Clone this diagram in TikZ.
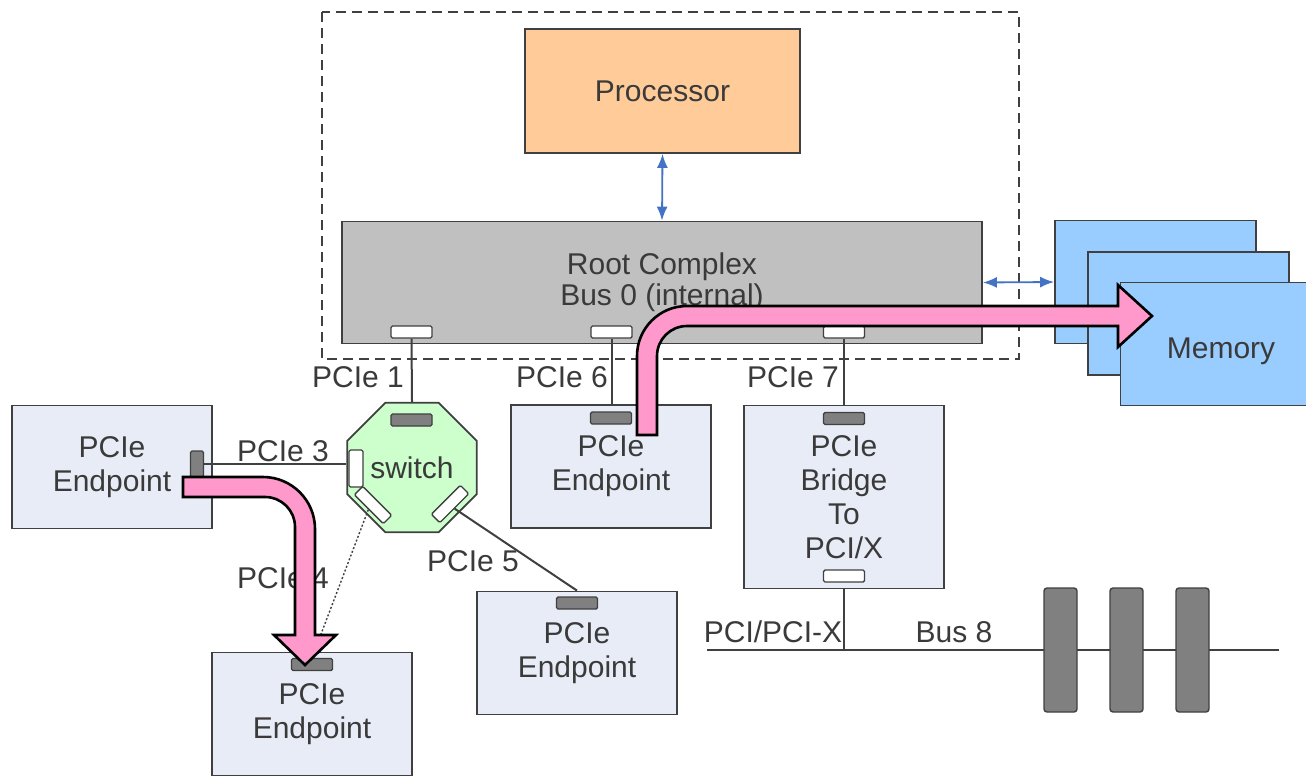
\documentclass[tikz,border=0pt]{standalone}
\usepackage{fontspec}
\setmainfont{Liberation Sans}
\usetikzlibrary{shapes.geometric,arrows.meta}
\definecolor{ink}{HTML}{3A3A3A}
\definecolor{edge}{HTML}{404040}
\definecolor{procfill}{HTML}{FFCC99}
\definecolor{rcfill}{HTML}{C0C0C0}
\definecolor{memfill}{HTML}{99CCFF}
\definecolor{epfill}{HTML}{E8ECF6}
\definecolor{swfill}{HTML}{CCFFCC}
\definecolor{linkblue}{HTML}{4472C4}
\definecolor{flowpink}{HTML}{FF99CC}
\definecolor{portfill}{HTML}{808080}
\begin{document}
\begin{tikzpicture}[x=1pt,y=-1pt,
  every node/.style={font=\fontsize{30}{34}\selectfont,text=ink},
  box/.style={draw=edge,line width=1.8pt,inner sep=0pt,align=center},
  ep/.style={box,fill=epfill,minimum width=200pt,minimum height=123pt},
  mem/.style={box,fill=memfill,minimum width=201pt,minimum height=123pt},
  port/.style={draw=edge,line width=1.4pt,fill=portfill,minimum width=41pt,minimum height=12pt,inner sep=0pt,rounded corners=1.5pt},
  hole/.style={port,fill=white},
  wire/.style={draw=edge,line width=2pt},
  link/.style={draw=linkblue,line width=1.8pt,{Latex[length=14pt,width=11pt]}-{Latex[length=14pt,width=11pt]}},
  flow/.style={draw=black,line width=2.6pt,fill=flowpink,line join=miter},
  slot/.style={draw=edge,line width=1.4pt,fill=portfill,minimum width=33pt,minimum height=124pt,inner sep=0pt,rounded corners=3pt}]
\useasboundingbox[fill=white] (0,0) rectangle (1306,778);
\draw[edge,line width=1.6pt,dash pattern=on 10pt off 6pt] (322,12) rectangle (1019,359);

\node[box,fill=procfill,minimum width=275pt,minimum height=124pt] (proc) at (662.5,91) {Processor};
\node[box,fill=rcfill,minimum width=640pt,minimum height=122pt] (rc) at (662,282.5) {Root Complex\\[-3pt]Bus 0 (internal)};
\node[hole] (rcp1) at (411.5,332) {};
\node[hole] (rcp6) at (611.5,332) {};
\node[hole] (rcp7) at (844,332) {};

\node[mem] (mem1) at (1155.5,282) {};
\node[mem] (mem2) at (1188.5,313.5) {};
\node[mem,text height=34pt,text depth=6pt] (mem3) at (1221,344) {Memory};

\node[draw=edge,line width=1.8pt,fill=swfill,regular polygon,regular polygon sides=8,minimum size=140pt,inner sep=0pt] (sw) at (412,467.5) {switch};
\node[port] (swp1) at (411.5,420) {};
\node[hole,minimum width=14pt,minimum height=37pt] (swp3) at (356,468.5) {};
\node[hole,rotate=-45] (swp4) at (373,505) {};
\node[hole,rotate=45] (swp5) at (450,504) {};

\node[ep] (ep3) at (112,467) {PCIe\\Endpoint};
\node[port,minimum width=13pt,minimum height=26pt] (ep3p) at (197,464) {};
\node[ep] (ep6) at (611,466.5) {PCIe\\Endpoint};
\node[port] (ep6p) at (611,418) {};
\node[ep,minimum height=183pt] (br) at (844,497) {PCIe\\Bridge\\To\\PCI/X};
\node[port] (brp) at (844,418.5) {};
\node[hole] (brq) at (844,576) {};
\node[ep] (ep5) at (577,653) {PCIe\\Endpoint};
\node[port] (ep5p) at (577,603) {};
\node[ep] (ep4) at (312,714) {PCIe\\Endpoint};
\node[port] (ep4p) at (312,664.5) {};

\coordinate (busL) at (707,650);
\coordinate (busR) at (1279,650);
\draw[wire] (rcp1.south) -- (sw.north);
\draw[wire] (rcp6.south) -- (rcp6.south |- ep6.north);
\draw[wire] (rcp7.south) -- (rcp7.south |- br.north);
\draw[wire] (ep3p.east) -- (ep3p.east -| sw.west);
\draw[wire] (swp5.south) -- (ep5.north);
\draw[wire,line width=1.4pt,dash pattern=on 2pt off 2pt] (swp4.south) -- (ep4p.north);
\draw[wire] (br.south) -- (br.south |- busL);
\draw[wire] (busL) -- (busR);
\foreach \i/\x in {1/1060.5,2/1126.5,3/1192.5}
  \node[slot] (slot\i) at (\x,650) {};

\draw[link] (proc.south) -- (rc.north);
\draw[link] (rc.east) -- (mem1.west);

\node (l1) at (358,377) {PCIe 1};
\node (l6) at (562,377) {PCIe 6};
\node (l7) at (793,377) {PCIe 7};
\node (l3) at (283,451) {PCIe 3};
\node (l4) at (283,578) {PCIe 4};
\node (l5) at (473,561) {PCIe 5};
\node (lpci) at (773,632) {PCI/PCI-X};
\node (lbus) at (954,632) {Bus 8};

\draw[flow] (637,435) -- (637,356) .. controls (637,328.4) and (659.4,306) .. (687,306) -- (1118,306) -- (1118,285) -- (1152,316) -- (1118,347) -- (1118,326) -- (687,326) .. controls (670.4,326) and (657,339.4) .. (657,356) -- (657,435) -- cycle;
\draw[flow] (183,477) -- (263,477) .. controls (291.7,477) and (315,500.3) .. (315,529) -- (315,635) -- (336,635) -- (305,665) -- (274,635) -- (295,635) -- (295,527) .. controls (295,510.4) and (281.6,497) .. (265,497) -- (183,497) -- cycle;
\end{tikzpicture}
\end{document}
